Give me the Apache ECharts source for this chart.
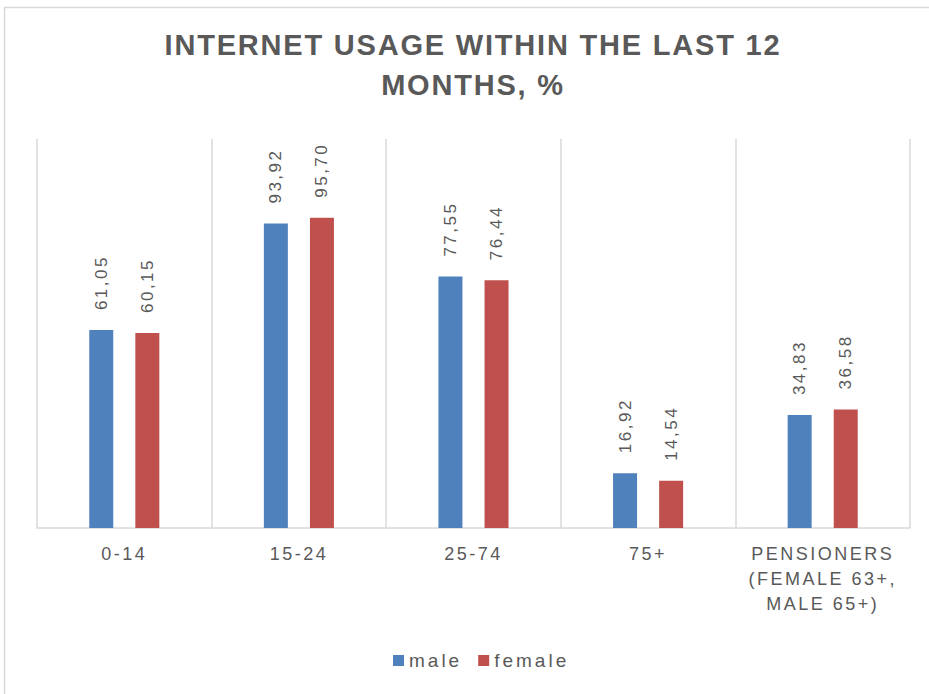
<!DOCTYPE html>
<html>
<head>
<meta charset="utf-8">
<script src="https://cdn.jsdelivr.net/npm/echarts@6/dist/echarts.min.js"></script>
<style>
  html, body { margin: 0; padding: 0; background: #fff; }
  #chart { width: 929px; height: 694px; }
  /* tracking for the spaced-out lettering */
  #chart text { letter-spacing: 2.5px; }
  #chart text[style*="29px"] { letter-spacing: 1.8px; }
  #chart text[style*="19px"] { letter-spacing: 3px; }
</style>
</head>
<body>
<div id="chart"></div>
<script>
// Internet usage within the last 12 months, % by age group and sex
const categories = ['0-14', '15-24', '25-74', '75+', 'PENSIONERS\n(FEMALE 63+,\nMALE 65+)'];
const maleValues = [61.05, 93.92, 77.55, 16.92, 34.83];
const femaleValues = [60.15, 95.70, 76.44, 14.54, 36.58];
const seriesNames = ['male', 'female'];
const titleText = 'INTERNET USAGE WITHIN THE LAST 12\nMONTHS, %';

const FONT = '"Liberation Sans", Arial, Helvetica, sans-serif';
const TEXT_GRAY = '#595959';
const LINE_GRAY = '#d9d9d9';

// decimal comma, two places
const fmt = p => p.value.toFixed(2).replace('.', ',');

const valueLabel = {
  show: true,
  position: 'top',
  rotate: 90,
  align: 'left',
  verticalAlign: 'middle',
  distance: 20,
  color: TEXT_GRAY,
  fontFamily: FONT,
  fontSize: 17,
  formatter: fmt
};

const chart = echarts.init(document.getElementById('chart'), null, { renderer: 'svg' });
chart.setOption({
  animation: false,
  backgroundColor: '#fff',
  graphic: [{
    type: 'rect',
    shape: { x: 4.5, y: 7.5, width: 1200, height: 1200 },
    style: { fill: 'none', stroke: LINE_GRAY, lineWidth: 1.5 },
    silent: true
  }],
  title: {
    text: titleText,
    left: 468,
    textAlign: 'center',
    top: 20,
    textStyle: {
      fontFamily: FONT,
      fontSize: 29,
      fontWeight: 'bold',
      color: TEXT_GRAY,
      lineHeight: 40
    }
  },
  legend: {
    data: seriesNames,
    left: 388,
    top: 646,
    icon: 'rect',
    itemWidth: 11,
    itemHeight: 11,
    itemGap: 28,
    textStyle: { fontFamily: FONT, fontSize: 19, color: TEXT_GRAY }
  },
  grid: { left: 37, right: 19, top: 139, bottom: 166, containLabel: false },
  xAxis: {
    type: 'category',
    data: categories,
    axisLine: { show: true, lineStyle: { color: LINE_GRAY, width: 1.5 } },
    axisTick: { show: false },
    splitLine: { show: true, lineStyle: { color: LINE_GRAY, width: 1.5 } },
    axisLabel: {
      interval: 0,
      margin: 13,
      color: TEXT_GRAY,
      fontFamily: FONT,
      fontSize: 18,
      lineHeight: 25
    }
  },
  yAxis: {
    type: 'value',
    min: 0,
    max: 120,
    show: false,
    splitLine: { show: false }
  },
  series: [
    {
      name: seriesNames[0],
      type: 'bar',
      data: maleValues,
      barWidth: 24,
      barGap: '92%',
      itemStyle: { color: '#4f81bd' },
      label: valueLabel
    },
    {
      name: seriesNames[1],
      type: 'bar',
      data: femaleValues,
      barWidth: 24,
      itemStyle: { color: '#c0504d' },
      label: valueLabel
    }
  ]
});
</script>
</body>
</html>
